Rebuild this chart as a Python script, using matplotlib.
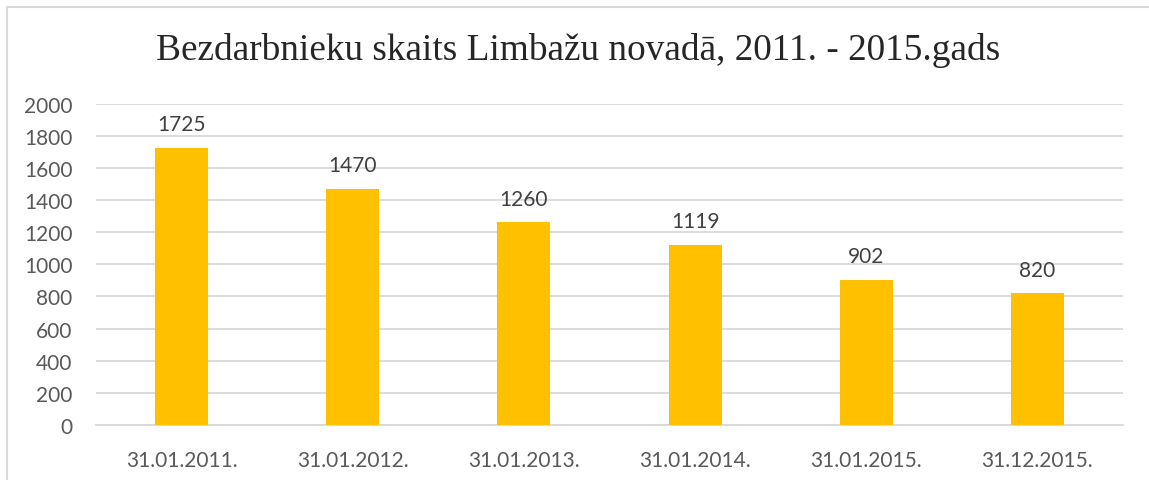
import matplotlib.pyplot as plt
from matplotlib.patches import Rectangle

# dati
datumi = ["31.01.2011.", "31.01.2012.", "31.01.2013.", "31.01.2014.", "31.01.2015.", "31.12.2015."]
bezdarbnieki = [1725, 1470, 1260, 1119, 902, 820]
y_ticks = list(range(0, 2001, 200))

fig = plt.figure(figsize=(11.49, 4.81), dpi=100)
ax = fig.add_axes([96 / 1149, 1 - 426 / 481, (1123 - 96) / 1149, (426 - 104.5) / 481])

# rāmis ap diagrammu
fig.patches.append(Rectangle((7 / 1149, -0.1), 1.2, 1 - 8 / 481 + 0.1,
                             transform=fig.transFigure, fill=False,
                             edgecolor="#d9d9d9", linewidth=1.5))

x = range(len(datumi))
ax.bar(x, bezdarbnieki, width=0.31, color="#FFC000", zorder=3)

for xi, v in zip(x, bezdarbnieki):
    ax.text(xi, v + 85, str(v), ha="center", va="bottom",
            fontsize=15, color="#404040", family="Lato")

ax.set_xlim(-0.5, len(datumi) - 0.5)
ax.set_ylim(0, 2000)
ax.set_yticks(y_ticks)
ax.set_xticks(list(x))
ax.set_xticklabels(datumi)
ax.yaxis.grid(True, color="#d9d9d9", linewidth=1.3, zorder=0)
ax.tick_params(length=0, labelsize=15, labelcolor="#595959")
for lbl in ax.get_xticklabels() + ax.get_yticklabels():
    lbl.set_family("Lato")
ax.tick_params(axis="x", pad=18)
ax.tick_params(axis="y", pad=17)
for s in ["top", "right", "left"]:
    ax.spines[s].set_visible(False)
ax.spines["bottom"].set_color("#d9d9d9")
ax.spines["bottom"].set_linewidth(1.3)

fig.text(0.503, 1 - 50 / 481, "Bezdarbnieku skaits Limbažu novadā, 2011. - 2015.gads",
         ha="center", va="center", fontsize=26.8, color="#262626",
         family="Liberation Serif")

fig.savefig("out.png", dpi=100)
